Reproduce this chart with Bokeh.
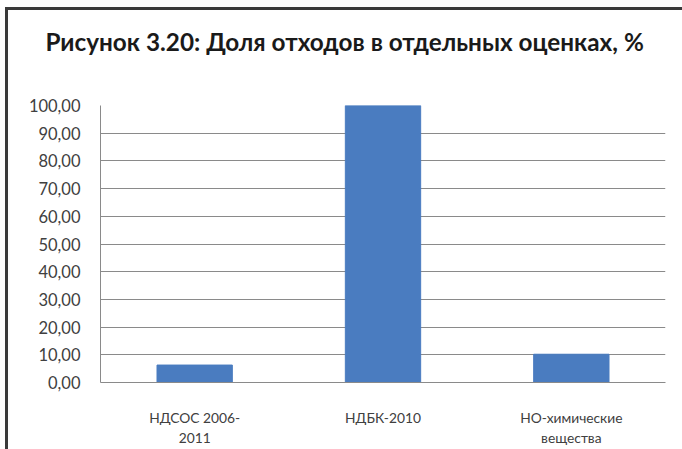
from bokeh.plotting import figure
from bokeh.models import ColumnDataSource, FixedTicker, Range1d, FactorRange, Title
from bokeh.embed import file_html
from bokeh.resources import INLINE

categories = ["НДСОС 2006-\n2011", "НДБК-2010", "НО-химические\nвещества"]
values = [6.3, 100.0, 10.2]
y_ticks = [0, 10, 20, 30, 40, 50, 60, 70, 80, 90, 100]
y_tick_labels = ["0,00", "10,00", "20,00", "30,00", "40,00", "50,00",
                 "60,00", "70,00", "80,00", "90,00", "100,00"]
title_text = "Рисунок 3.20: Доля отходов в отдельных оценках, %"

src = ColumnDataSource(dict(x=categories, top=values))

p = figure(width=674, height=439, output_backend="svg", toolbar_location=None,
           x_range=FactorRange(*categories, range_padding=0), y_range=Range1d(0, 100),
           min_border_left=92, min_border_right=17, min_border_top=95,
           min_border_bottom=67, tools="")
p.frame_width = 565
p.frame_height = 277

# spacer between title and plot area (added first -> nearest the frame)
spacer = Title(text=" ", text_font_size="1px", standoff=30, text_color="white")
p.add_layout(spacer, "above")
main_title = Title(text=title_text, text_font="Lato", text_font_size="24.3px",
                   text_font_style="bold", text_color="#1a1a1a", align="left",
                   offset=-55, vertical_align="top", standoff=30)
p.add_layout(main_title, "above")

p.vbar(x="x", top="top", width=0.4, source=src, color="#4a7cc0")

p.outline_line_color = None
p.background_fill_color = "white"
p.border_fill_color = "white"

p.xgrid.grid_line_color = None
p.ygrid.grid_line_color = "#8a8a8a"
p.ygrid.ticker = FixedTicker(ticks=y_ticks)

p.yaxis.ticker = FixedTicker(ticks=y_ticks)
p.yaxis.major_label_overrides = {t: l for t, l in zip(y_ticks, y_tick_labels)}
p.yaxis.major_tick_line_color = None
p.yaxis.minor_tick_line_color = None
p.yaxis.axis_line_color = "#8a8a8a"
p.yaxis.major_label_standoff = 14
p.yaxis.major_label_text_font = "Lato"
p.yaxis.major_label_text_font_size = "16.5px"
p.yaxis.major_label_text_color = "#404040"

p.xaxis.major_tick_line_color = None
p.xaxis.minor_tick_line_color = None
p.xaxis.axis_line_color = "#8a8a8a"
p.xaxis.major_label_standoff = 20
p.xaxis.major_label_text_font = "Lato"
p.xaxis.major_label_text_font_size = "13.8px"
p.xaxis.major_label_text_line_height = 1.2
p.xaxis.major_label_text_color = "#404040"
p.xaxis.major_label_orientation = "horizontal"

p.styles = {"border-left": "3px solid #3a3a3a", "border-top": "3px solid #3a3a3a",
            "margin-left": "5px", "margin-top": "7px"}

open("out.html", "w").write(file_html(p, INLINE))
